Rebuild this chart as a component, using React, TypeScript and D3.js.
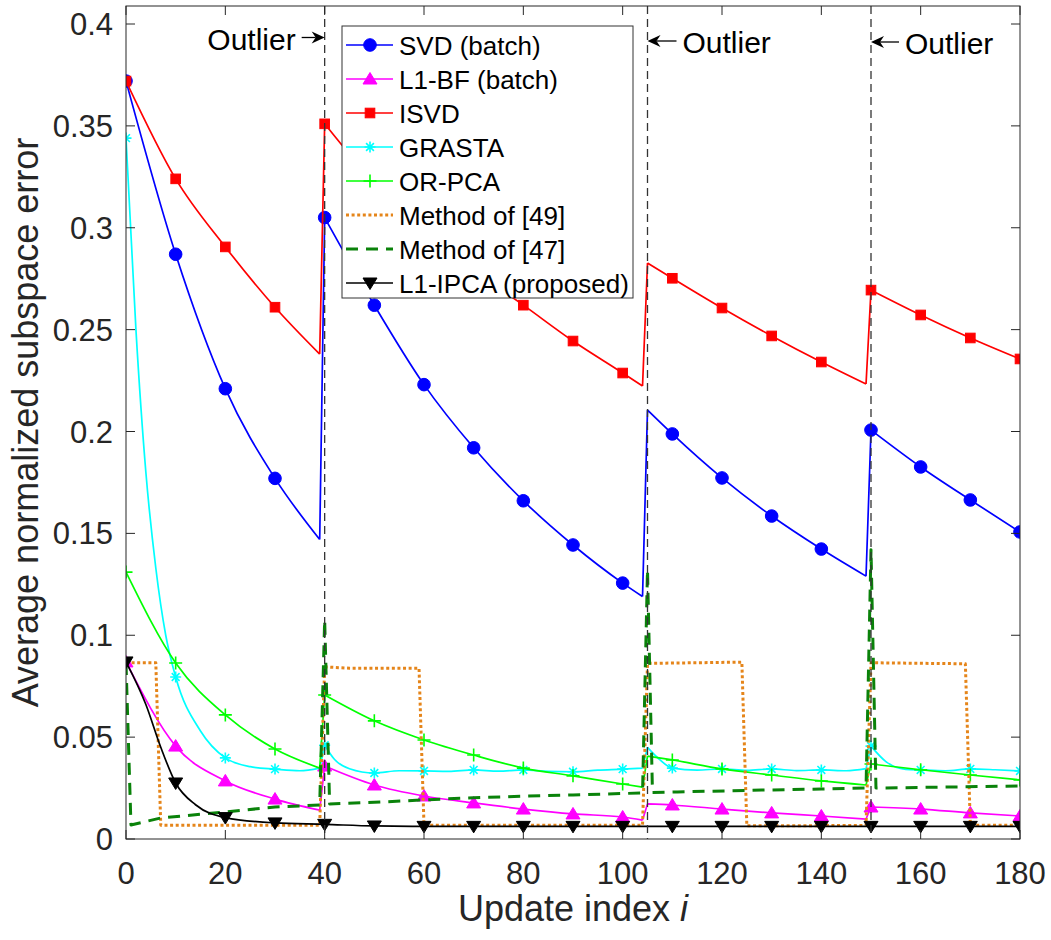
import React from "react";
import * as d3 from "d3";

// ---------- data ----------
const X_MAIN = [0, 10, 20, 30, 39, 40, 50, 60, 70, 80, 90, 100, 104, 105, 110, 120, 130, 140, 149, 150, 160, 170, 180];

const SVD = [0.372, 0.287, 0.221, 0.177, 0.147, 0.305, 0.262, 0.223, 0.192, 0.166, 0.1443, 0.1256, 0.119, 0.2105, 0.1988, 0.1772, 0.1585, 0.1423, 0.129, 0.2007, 0.1826, 0.1664, 0.1507];
const L1BF = [0.0869, 0.0456, 0.0285, 0.0196, 0.0142, 0.0358, 0.0265, 0.0211, 0.0177, 0.0147, 0.0123, 0.0108, 0.0093, 0.0172, 0.0167, 0.0147, 0.0128, 0.0113, 0.0098, 0.0157, 0.0147, 0.0128, 0.0113];
const ISVD = [0.372, 0.324, 0.2906, 0.261, 0.238, 0.351, 0.322, 0.299, 0.279, 0.262, 0.2444, 0.2287, 0.2223, 0.2827, 0.2752, 0.2606, 0.2469, 0.2341, 0.2233, 0.2694, 0.2572, 0.2459, 0.2356];
const ORPCA = [0.131, 0.0864, 0.0609, 0.0442, 0.0348, 0.0707, 0.058, 0.0486, 0.0412, 0.0348, 0.031, 0.027, 0.0255, 0.0407, 0.0388, 0.0344, 0.0314, 0.0285, 0.0265, 0.0368, 0.034, 0.0314, 0.029];

const X_GRASTA = [0, 2, 4, 6, 8, 10, 15, 20, 25, 30, 35, 39, 40, 42, 45, 50, 55, 60, 65, 70, 75, 80, 85, 90, 95, 100, 104, 105, 107, 110, 115, 120, 125, 130, 135, 140, 145, 149, 150, 153, 157, 160, 165, 170, 175, 180];
const GRASTA = [0.344, 0.25, 0.18, 0.133, 0.1, 0.0795, 0.053, 0.0398, 0.0355, 0.0343, 0.0335, 0.0348, 0.046, 0.039, 0.0345, 0.0324, 0.0335, 0.0334, 0.0332, 0.0339, 0.0333, 0.0339, 0.0332, 0.033, 0.0338, 0.0343, 0.0348, 0.045, 0.04, 0.0348, 0.0338, 0.0344, 0.0337, 0.0344, 0.0336, 0.0339, 0.0335, 0.0345, 0.0456, 0.038, 0.0342, 0.0339, 0.0335, 0.0344, 0.034, 0.0334];

const X_M49 = [0, 6, 7, 39, 40, 45, 59, 60, 104, 105, 124, 125, 149, 150, 169, 170, 180];
const M49 = [0.0865, 0.0865, 0.0068, 0.0068, 0.0845, 0.0838, 0.0838, 0.0068, 0.0068, 0.0862, 0.0868, 0.0065, 0.0066, 0.0865, 0.086, 0.0068, 0.0068];

const X_M47 = [0, 1, 7, 20, 30, 39, 40, 41, 50, 60, 70, 80, 90, 104, 105, 106, 111, 128, 140, 149, 150, 151, 165, 180];
const M47 = [0.0864, 0.0069, 0.0103, 0.0133, 0.0157, 0.0167, 0.1075, 0.0172, 0.018, 0.0192, 0.0203, 0.021, 0.0216, 0.0226, 0.132, 0.0228, 0.0231, 0.024, 0.0245, 0.025, 0.142, 0.025, 0.0255, 0.026];

const X_IPCA = [0, 4, 7, 10, 14, 20, 30, 40, 50, 60, 70, 80, 90, 100, 110, 120, 130, 140, 150, 160, 170, 180];
const IPCA = [0.0869, 0.066, 0.045, 0.0275, 0.0168, 0.0105, 0.0079, 0.0072, 0.0064, 0.0062, 0.0062, 0.0062, 0.0062, 0.0062, 0.0062, 0.0062, 0.0062, 0.0062, 0.0062, 0.0062, 0.0062, 0.0062];

const OUTLIERS = [40, 105, 150];
const X_TICKS = [0, 20, 40, 60, 80, 100, 120, 140, 160, 180];
const Y_TICKS = [0, 0.05, 0.1, 0.15, 0.2, 0.25, 0.3, 0.35, 0.4];
const LEGEND_LABELS = ["SVD (batch)", "L1-BF (batch)", "ISVD", "GRASTA", "OR-PCA", "Method of [49]", "Method of [47]", "L1-IPCA (proposed)"];

// ---------- layout ----------
const W = 1051, H = 940;
const L = 126, R = 1020, B = 839, T = 6;
const x = d3.scaleLinear().domain([0, 180]).range([L, R]);
const y = d3.scaleLinear().domain([0, 0.4]).range([B, 24]);

const FONT = '"Liberation Sans", Arial, Helvetica, sans-serif';
const AX = "#262626";

type Marker = "circle" | "tri" | "square" | "star" | "plus" | "none" | "down";

const markerPath: Record<string, string> = {
  tri: "M0,-6.5L7,5L-7,5Z",
  down: "M0,6.5L7,-5L-7,-5Z",
  star: "M-5.5,0H5.5M0,-5.5V5.5M-3.9,-3.9L3.9,3.9M-3.9,3.9L3.9,-3.9",
  plus: "M-6.5,0H6.5M0,-6.5V6.5",
};

function MarkerShape({ type, cx, cy, color }: { type: Marker; cx: number; cy: number; color: string }) {
  if (type === "none") return null;
  if (type === "circle") return <circle cx={cx} cy={cy} r={6.3} fill={color} stroke={color} />;
  if (type === "square") return <rect x={cx - 4.8} y={cy - 4.8} width={9.6} height={9.6} fill={color} stroke={color} />;
  const d = markerPath[type];
  const filled = type === "tri" || type === "down";
  return (
    <path
      d={d}
      transform={`translate(${cx},${cy})`}
      fill={filled ? color : "none"}
      stroke={color}
      strokeWidth={filled ? 1 : 1.6}
    />
  );
}

function smoothPath(xs: number[], vs: number[]): string {
  // split at outlier break points, smooth inside each segment, straight jumps between
  const pts = xs.map((xv, i) => [x(xv), y(vs[i])] as [number, number]);
  const segs: [number, number][][] = [];
  let cur: [number, number][] = [];
  xs.forEach((xv, i) => {
    if (OUTLIERS.includes(xv) && i > 0 && xs[i - 1] === xv - 1) {
      segs.push(cur);
      cur = [];
    }
    cur.push(pts[i]);
  });
  segs.push(cur);
  const curve = d3.line<[number, number]>().curve(d3.curveMonotoneX);
  const lin = d3.line<[number, number]>();
  let d = "";
  segs.forEach((s, k) => {
    d += curve(s) || "";
    if (k < segs.length - 1) d += lin([s[s.length - 1], segs[k + 1][0]]) || "";
  });
  return d;
}

function linearPath(xs: number[], vs: number[]): string {
  return d3.line<number>().x((_, i) => x(xs[i])).y((v) => y(v))(vs) || "";
}

interface Series {
  xs: number[];
  vs: number[];
  color: string;
  marker: Marker;
  dash?: string;
  width: number;
  smooth: boolean;
}

const SERIES: Series[] = [
  { xs: X_MAIN, vs: SVD, color: "#0000ff", marker: "circle", width: 1.7, smooth: true },
  { xs: X_MAIN, vs: L1BF, color: "#ff00ff", marker: "tri", width: 1.7, smooth: true },
  { xs: X_MAIN, vs: ISVD, color: "#ff0000", marker: "square", width: 1.7, smooth: true },
  { xs: X_GRASTA, vs: GRASTA, color: "#00ffff", marker: "star", width: 1.7, smooth: true },
  { xs: X_MAIN, vs: ORPCA, color: "#00ff00", marker: "plus", width: 1.7, smooth: true },
  { xs: X_M49, vs: M49, color: "#e5851a", marker: "none", width: 3, dash: "3,2.6", smooth: false },
  { xs: X_M47, vs: M47, color: "#0a820a", marker: "none", width: 3, dash: "12,8", smooth: false },
  { xs: X_IPCA, vs: IPCA, color: "#000000", marker: "down", width: 1.7, smooth: true },
];

export default function App() {
  const fmt = (v: number) => String(+v.toFixed(2));
  return (
    <svg width={W} height={H} style={{ position: "absolute", left: 0, top: 0, background: "#fff" }} fontFamily={FONT}>
      <rect x={0} y={0} width={W} height={H} fill="#fff" />
      <defs>
        <clipPath id="plot">
          <rect x={L} y={T} width={R - L} height={B - T} />
        </clipPath>
      </defs>

      {/* series */}
      <g clipPath="url(#plot)">
        {SERIES.map((s, si) => (
          <g key={si}>
            <path
              d={s.smooth ? smoothPath(s.xs, s.vs) : linearPath(s.xs, s.vs)}
              fill="none"
              stroke={s.color}
              strokeWidth={s.width}
              strokeDasharray={s.dash}
              strokeLinejoin="round"
            />
            {s.marker !== "none" &&
              s.xs.map((xv, i) =>
                xv % 10 === 0 ? <MarkerShape key={i} type={s.marker} cx={x(xv)} cy={y(s.vs[i])} color={s.color} /> : null
              )}
          </g>
        ))}
        {/* outlier lines */}
        {OUTLIERS.map((o) => (
          <line key={o} x1={x(o)} x2={x(o)} y1={T} y2={B} stroke="#333" strokeWidth={1.3} strokeDasharray="8,5" />
        ))}
      </g>

      {/* axes box and ticks */}
      <rect x={L} y={T} width={R - L} height={B - T} fill="none" stroke={AX} strokeWidth={1} />
      {X_TICKS.map((t) => (
        <g key={"x" + t}>
          <line x1={x(t)} x2={x(t)} y1={B} y2={B - 9} stroke={AX} />
          <line x1={x(t)} x2={x(t)} y1={T} y2={T + 9} stroke={AX} />
          <text x={x(t)} y={884} textAnchor="middle" fontSize={31} fill={AX}>
            {t}
          </text>
        </g>
      ))}
      {Y_TICKS.map((t) => (
        <g key={"y" + t}>
          <line x1={L} x2={L + 9} y1={y(t)} y2={y(t)} stroke={AX} />
          <line x1={R} x2={R - 9} y1={y(t)} y2={y(t)} stroke={AX} />
          <text x={113} y={y(t) + 11} textAnchor="end" fontSize={31} fill={AX}>
            {fmt(t)}
          </text>
        </g>
      ))}

      {/* axis labels */}
      <text x={(L + R) / 2} y={921} textAnchor="middle" fontSize={36} fill={AX}>
        Update index <tspan fontStyle="italic">i</tspan>
      </text>
      <text transform={`translate(38,${(T + B) / 2}) rotate(-90)`} textAnchor="middle" fontSize={36} fill={AX}>
        Average normalized subspace error
      </text>

      {/* outlier annotations */}
      {OUTLIERS.map((o, k) => {
        const tip = x(o);
        const dir = k === 0 ? -1 : 1; // first arrow comes from the left
        const ay = [37.5, 41, 42][k];
        const len = [23, 29, 28][k];
        const tail = tip + dir * len;
        const head = `M${tip},${ay}L${tip + dir * 13},${ay - 6}L${tip + dir * 9},${ay}L${tip + dir * 13},${ay + 6}Z`;
        return (
          <g key={"a" + o}>
            <line x1={tail} x2={tip + dir * 9} y1={ay} y2={ay} stroke="#000" strokeWidth={1.3} />
            <path d={head} fill="#000" />
            <text
              x={tail + dir * 6}
              y={ay + 12}
              textAnchor={dir < 0 ? "end" : "start"}
              fontSize={30}
              fill="#000"
            >
              Outlier
            </text>
          </g>
        );
      })}

      {/* legend */}
      <g>
        <rect x={342} y={26} width={291} height={272} fill="#fff" stroke="#333" strokeWidth={1} />
        {SERIES.map((s, k) => {
          const cy = 45 + k * 34;
          return (
            <g key={"l" + k}>
              <line x1={346} x2={393} y1={cy} y2={cy} stroke={s.color} strokeWidth={s.width} strokeDasharray={s.dash} />
              <MarkerShape type={s.marker} cx={370} cy={cy} color={s.color} />
              <text x={399} y={cy + 9.5} fontSize={26} fill="#000">
                {LEGEND_LABELS[k]}
              </text>
            </g>
          );
        })}
      </g>
    </svg>
  );
}
